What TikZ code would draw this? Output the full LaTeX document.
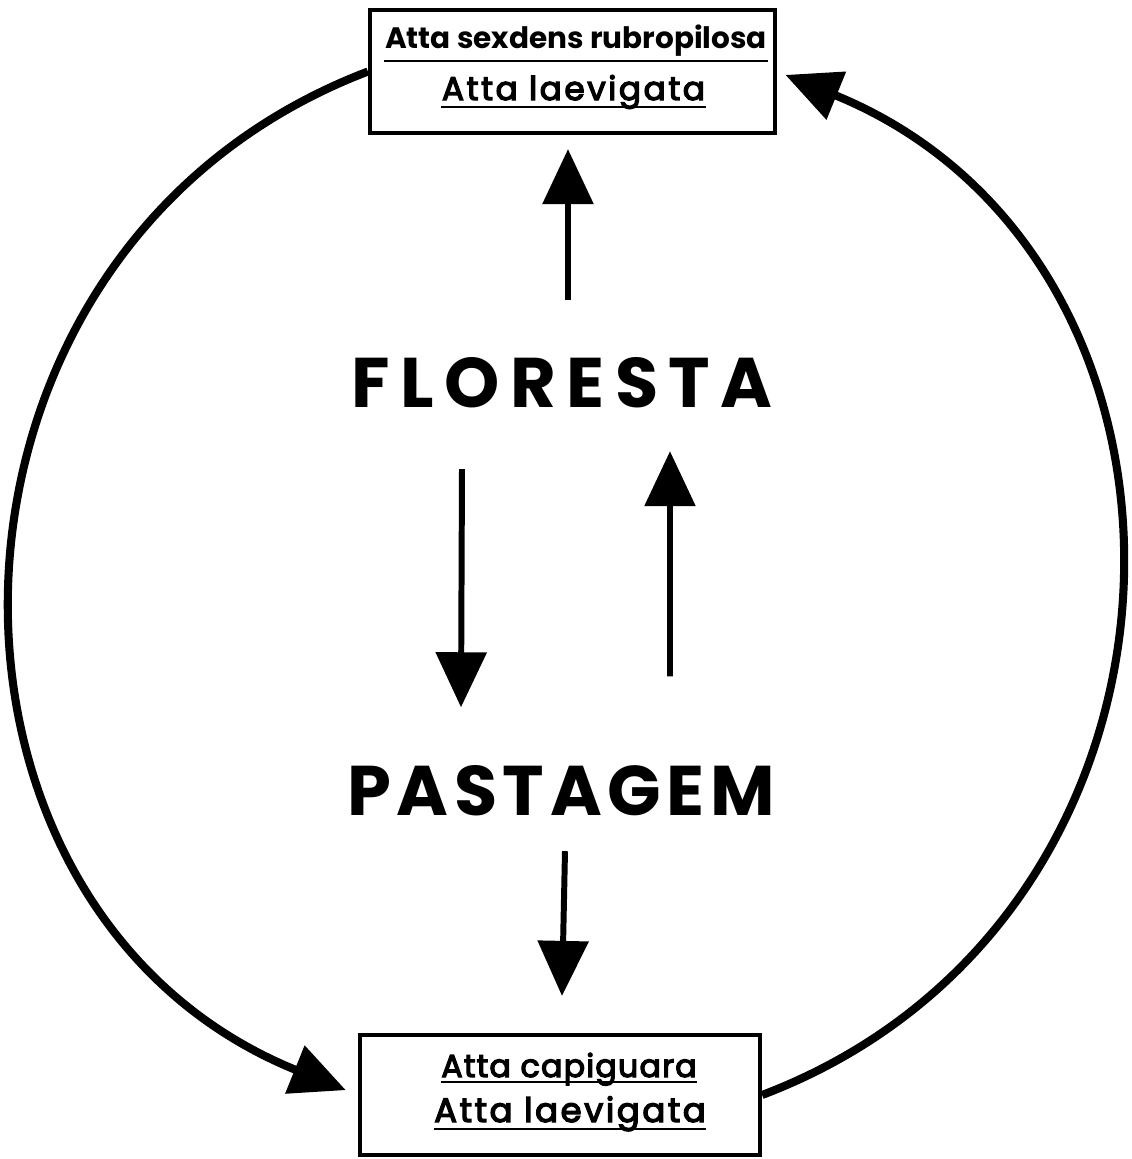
\documentclass[tikz,border=0pt]{standalone}
\usepackage{fontspec}
\setmainfont{Poppins}
\usetikzlibrary{arrows.meta}

\begin{document}
\begin{tikzpicture}[
    box/.style={rectangle, draw, line width=1.2pt, inner sep=0pt},
    species/.style={inner sep=0pt, anchor=base},
    habitat/.style={inner sep=0pt, anchor=base, font=\bfseries\fontsize{20}{24}\selectfont},
    cyc/.style={line width=2.3pt, -{Triangle[length=5.5mm,width=5mm]}, looseness=1.24},
    flow/.style={line width=1.7pt, -{Triangle[length=5.5mm,width=5mm]}},
    ul/.style={line width=0.8pt}]

    \useasboundingbox (0,0) rectangle (11.32,-11.59);

    % Species boxes
    \node[box, minimum width=4.05cm, minimum height=1.23cm] (topb) at (5.725,-0.715) {};
    \node[box, minimum width=4.00cm, minimum height=1.20cm] (botb) at (5.60,-10.95) {};

    \node[species, font=\bfseries\fontsize{8.4}{10}\selectfont] (sp1) at (5.76,-0.48) {Atta sexdens rubropilosa};
    \node[species, font=\fontsize{9.3}{11}\selectfont\addfontfeature{LetterSpace=8,FakeBold=4}] (sp2) at (5.735,-1.00) {Atta laevigata};
    \node[species, font=\fontsize{9}{11}\selectfont\addfontfeature{LetterSpace=4,FakeBold=4}] (sp3) at (5.69,-10.77) {Atta capiguara};
    \node[species, font=\fontsize{9.6}{11}\selectfont\addfontfeature{LetterSpace=8,FakeBold=4}] (sp4) at (5.70,-11.22) {Atta laevigata};

    \draw[ul] ([yshift=-1.3mm]sp1.base west) -- ([yshift=-1.3mm]sp1.base east);
    \draw[ul] ([yshift=-0.7mm]sp2.base west) -- ([yshift=-0.7mm]sp2.base east);
    \draw[ul] ([yshift=-0.5mm]sp3.base west) -- ([yshift=-0.5mm]sp3.base east);
    \draw[ul] ([yshift=-0.7mm]sp4.base west) -- ([yshift=-0.7mm]sp4.base east);

    % Land use
    \node[habitat] (flo) at (5.62,-4.07) {\addfontfeature{LetterSpace=15}FLORESTA};
    \node[habitat] (pas) at (5.61,-8.15) {\addfontfeature{LetterSpace=8}PASTAGEM};

    \draw[flow] ([xshift=0.6mm,yshift=5.6mm]flo.north) -- ([xshift=0.6mm,yshift=-1.4mm]flo.north |- topb.south);
    \draw[flow] ([xshift=-10mm,yshift=-6.1mm]flo.south) -- ([xshift=-10mm,yshift=5.7mm]pas.north);
    \draw[flow] ([xshift=10.9mm,yshift=8.8mm]pas.north) -- ([xshift=10.8mm,yshift=-4.3mm]flo.south);
    \draw[flow] ([xshift=0.4mm,yshift=-3.5mm]pas.south) -- ([xshift=0.2mm,yshift=3.7mm]botb.north);

    % Cycle
    \draw[cyc, shorten >=1.3mm] (topb.west) to[out=200.9, in=158] (botb.west);
    \draw[cyc, shorten >=0.9mm] (botb.east) to[out=20.8, in=-22.2] (topb.east);
\end{tikzpicture}
\end{document}
